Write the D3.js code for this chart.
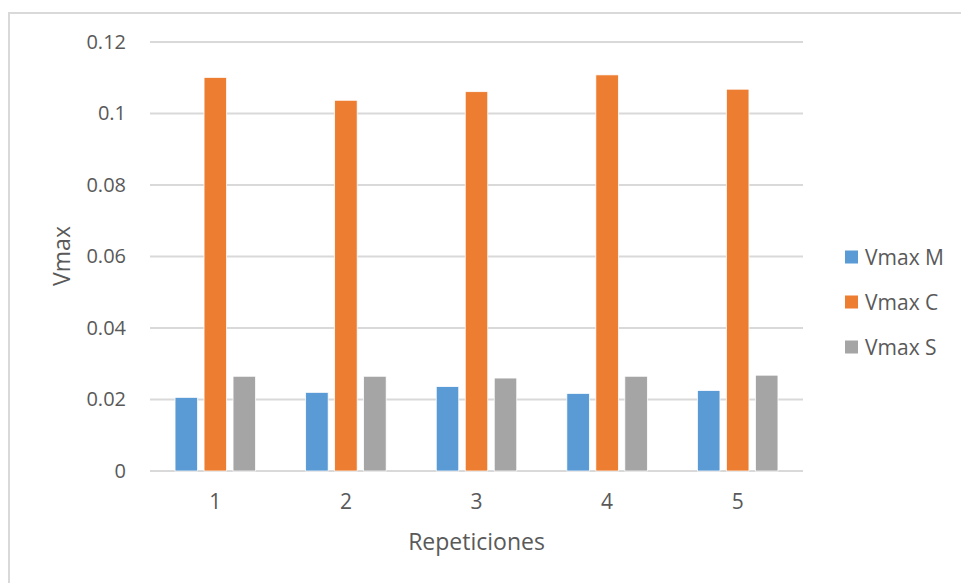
<!DOCTYPE html>
<html><head><meta charset="utf-8">
<script src="https://cdn.jsdelivr.net/npm/d3@7"></script>
<style>body{margin:0;background:#fff}svg{display:block}text{font-family:"Open Sans",sans-serif;fill:#595959}</style>
</head><body>
<svg id="c" width="961" height="583"></svg>
<script>
const categories = ["1","2","3","4","5"];
const seriesNames = ["Vmax M","Vmax C","Vmax S"];
const vmaxM = [0.0206,0.0220,0.0236,0.0217,0.0225];
const vmaxC = [0.1101,0.1037,0.1061,0.1108,0.1068];
const vmaxS = [0.0265,0.0265,0.0260,0.0265,0.0268];
const colors = ["#5B9BD5","#ED7D31","#A5A5A5"];
const yTicks = [0,0.02,0.04,0.06,0.08,0.1,0.12];
const yTickLabels = ["0","0.02","0.04","0.06","0.08","0.1","0.12"];
const xTitle = "Repeticiones", yTitle = "Vmax";

const FONT = "Open Sans, sans-serif";
const svg = d3.select("#c");
const seriesVals = [vmaxM, vmaxC, vmaxS];

// outer border
svg.append("rect").attr("x",9).attr("y",13).attr("width",1000).attr("height",600)
  .attr("fill","none").attr("stroke","#D9D9D9").attr("stroke-width",2);

const x0 = d3.scaleBand().domain(categories).range([150,803]).padding(0);
const x1 = d3.scaleBand().domain(seriesNames).range([-40.25,40.25]).paddingInner(0.224);
const y = d3.scaleLinear().domain([0,0.12]).range([471,42]);

// gridlines
svg.append("g").selectAll("line").data(yTicks).join("line")
  .attr("x1",150).attr("x2",803).attr("y1",d=>y(d)).attr("y2",d=>y(d))
  .attr("stroke","#D9D9D9").attr("stroke-width",2);

// y axis labels
const yAxis = d3.axisLeft(y).tickValues(yTicks).tickFormat((d,i)=>yTickLabels[i]).tickSize(0).tickPadding(0);
const gy = svg.append("g").attr("transform","translate(126,0)").call(yAxis);
gy.select(".domain").remove();
gy.selectAll("text").attr("font-size",20).attr("fill","#595959").attr("font-family",FONT);

// bars
seriesNames.forEach((s,si)=>{
  svg.append("g").selectAll("rect").data(categories).join("rect")
    .attr("x",(c)=>x0(c)+x0.bandwidth()/2 + x1(s))
    .attr("width",x1.bandwidth())
    .attr("y",(c,i)=>y(seriesVals[si][i]))
    .attr("height",(c,i)=>y(0)-y(seriesVals[si][i]))
    .attr("fill",colors[si]).attr("stroke","#fff").attr("stroke-width",0.75);
});

// x axis labels
const xAxis = d3.axisBottom(x0).tickSize(0).tickPadding(0);
const gx = svg.append("g").attr("transform","translate(0,494)").call(xAxis);
gx.select(".domain").remove();
gx.selectAll("text").attr("font-size",21).attr("fill","#595959").attr("font-family",FONT).attr("dy","0.71em");

// titles
svg.append("text").attr("x",476.5).attr("y",550).attr("text-anchor","middle").attr("font-size",23).text(xTitle);
svg.append("text").attr("transform","translate(70,256) rotate(-90)").attr("text-anchor","middle").attr("font-size",23).text(yTitle);

// legend
const lg = svg.append("g");
seriesNames.forEach((s,i)=>{
  const cy = 257 + i*45;
  lg.append("rect").attr("x",845).attr("y",cy-6.5).attr("width",13).attr("height",13).attr("fill",colors[i]);
  lg.append("text").attr("x",865).attr("y",cy+8).attr("font-size",21).text(s);
});
</script>
</body></html>
